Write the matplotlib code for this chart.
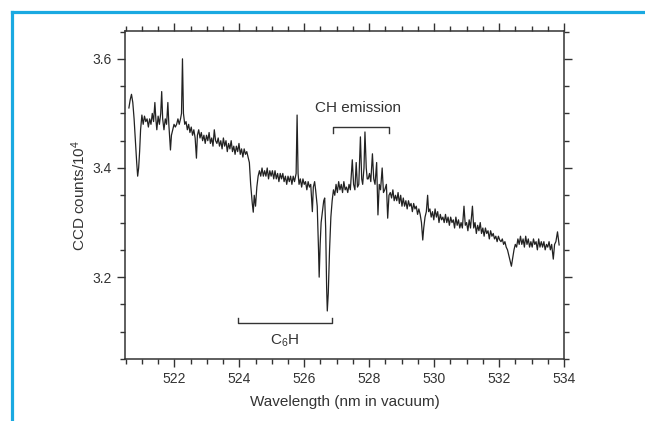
import numpy as np
import matplotlib
matplotlib.use('Agg')
import matplotlib.pyplot as plt
from matplotlib.ticker import MultipleLocator
from matplotlib.lines import Line2D

plt.rcParams['font.family'] = ['Liberation Sans', 'DejaVu Sans']
plt.rcParams['mathtext.default'] = 'regular'

# spectrum: (wavelength nm, counts / 1e4)
spectrum = [
    (520.60, 3.510), (520.64, 3.525), (520.68, 3.535), (520.72, 3.520), (520.76, 3.490),
    (520.80, 3.450), (520.84, 3.410), (520.87, 3.385), (520.90, 3.400), (520.93, 3.430),
    (520.96, 3.470), (521.00, 3.497), (521.04, 3.480), (521.08, 3.495), (521.12, 3.485),
    (521.16, 3.490), (521.20, 3.475), (521.24, 3.490), (521.28, 3.480), (521.32, 3.500),
    (521.36, 3.485), (521.40, 3.520), (521.43, 3.490), (521.46, 3.470), (521.50, 3.495),
    (521.54, 3.480), (521.58, 3.500), (521.61, 3.540), (521.64, 3.490), (521.68, 3.470),
    (521.72, 3.490), (521.76, 3.480), (521.80, 3.520), (521.83, 3.480), (521.86, 3.450),
    (521.88, 3.433), (521.91, 3.460), (521.95, 3.470), (521.99, 3.480), (522.03, 3.475),
    (522.07, 3.480), (522.11, 3.490), (522.15, 3.480), (522.19, 3.490), (522.22, 3.500),
    (522.25, 3.600), (522.28, 3.500), (522.32, 3.480), (522.36, 3.485),
    (522.40, 3.470), (522.44, 3.480), (522.48, 3.465), (522.52, 3.475), (522.56, 3.460),
    (522.60, 3.470), (522.64, 3.455), (522.68, 3.418), (522.71, 3.460), (522.75, 3.470),
    (522.79, 3.455), (522.83, 3.465), (522.87, 3.450), (522.91, 3.460), (522.95, 3.445),
    (522.99, 3.460), (523.03, 3.450), (523.07, 3.465), (523.11, 3.445), (523.15, 3.455),
    (523.19, 3.440), (523.23, 3.470), (523.27, 3.450), (523.31, 3.445), (523.35, 3.455),
    (523.39, 3.440), (523.43, 3.450), (523.47, 3.435), (523.51, 3.455), (523.55, 3.440),
    (523.59, 3.450), (523.63, 3.430), (523.67, 3.445), (523.71, 3.435), (523.75, 3.450),
    (523.79, 3.430), (523.83, 3.440), (523.87, 3.425), (523.91, 3.440), (523.95, 3.430),
    (523.99, 3.445), (524.03, 3.425), (524.07, 3.435), (524.11, 3.420), (524.15, 3.435),
    (524.19, 3.425), (524.23, 3.430), (524.27, 3.420), (524.31, 3.410), (524.35, 3.370),
    (524.40, 3.335), (524.43, 3.319), (524.46, 3.350), (524.50, 3.330), (524.54, 3.365),
    (524.58, 3.385), (524.62, 3.395),
    (524.66, 3.385), (524.70, 3.400), (524.74, 3.385), (524.78, 3.395), (524.82, 3.385),
    (524.86, 3.400), (524.90, 3.380), (524.94, 3.395), (524.98, 3.385), (525.02, 3.395),
    (525.06, 3.380), (525.10, 3.395), (525.14, 3.380), (525.18, 3.390), (525.22, 3.375),
    (525.26, 3.390), (525.30, 3.380), (525.34, 3.390), (525.38, 3.375), (525.42, 3.385),
    (525.46, 3.370), (525.50, 3.385), (525.54, 3.375), (525.58, 3.385), (525.62, 3.370),
    (525.66, 3.385), (525.70, 3.375), (525.75, 3.390), (525.78, 3.497), (525.81, 3.390),
    (525.84, 3.370), (525.88, 3.380), (525.92, 3.365), (525.96, 3.380), (526.00, 3.370),
    (526.04, 3.375), (526.08, 3.360), (526.12, 3.375), (526.16, 3.365), (526.20, 3.370),
    (526.25, 3.320), (526.28, 3.365), (526.32, 3.375),
    (526.35, 3.360), (526.40, 3.330), (526.44, 3.250), (526.46, 3.200), (526.49, 3.260),
    (526.52, 3.300), (526.56, 3.320), (526.60, 3.340), (526.63, 3.345), (526.66, 3.290),
    (526.69, 3.180), (526.71, 3.138), (526.74, 3.170), (526.78, 3.250), (526.82, 3.310),
    (526.86, 3.340), (526.90, 3.360),
    (526.94, 3.350), (526.98, 3.370), (527.02, 3.355), (527.06, 3.375), (527.10, 3.360),
    (527.14, 3.370), (527.18, 3.355), (527.22, 3.375), (527.26, 3.360), (527.30, 3.365),
    (527.34, 3.355), (527.38, 3.370), (527.42, 3.360), (527.48, 3.415), (527.52, 3.370),
    (527.56, 3.360), (527.60, 3.410), (527.64, 3.365), (527.68, 3.370), (527.73, 3.457),
    (527.77, 3.380), (527.80, 3.370), (527.84, 3.400), (527.87, 3.466), (527.91, 3.400),
    (527.94, 3.380), (527.97, 3.380), (528.01, 3.390), (528.05, 3.375), (528.10, 3.426),
    (528.14, 3.380), (528.18, 3.370), (528.23, 3.410), (528.27, 3.314), (528.31, 3.370),
    (528.35, 3.360), (528.40, 3.400), (528.44, 3.355), (528.48, 3.360), (528.53, 3.370),
    (528.57, 3.308), (528.61, 3.350),
    (528.65, 3.355), (528.69, 3.345), (528.73, 3.360), (528.77, 3.340), (528.81, 3.350),
    (528.85, 3.340), (528.89, 3.355), (528.93, 3.335), (528.97, 3.350), (529.01, 3.330),
    (529.05, 3.345), (529.09, 3.330), (529.13, 3.340), (529.17, 3.325), (529.21, 3.340),
    (529.25, 3.330), (529.29, 3.335), (529.33, 3.320), (529.37, 3.335), (529.41, 3.325),
    (529.45, 3.330), (529.49, 3.315), (529.53, 3.325), (529.57, 3.315), (529.61, 3.300),
    (529.65, 3.268), (529.68, 3.290), (529.72, 3.310), (529.76, 3.320), (529.80, 3.350),
    (529.83, 3.320),
    (529.87, 3.325), (529.91, 3.310), (529.95, 3.320), (529.99, 3.305), (530.03, 3.325),
    (530.07, 3.310), (530.11, 3.320), (530.15, 3.300), (530.19, 3.315), (530.23, 3.305),
    (530.27, 3.310), (530.31, 3.300), (530.35, 3.315), (530.39, 3.300), (530.43, 3.310),
    (530.47, 3.295), (530.51, 3.310), (530.55, 3.300), (530.59, 3.305), (530.63, 3.290),
    (530.67, 3.310), (530.71, 3.295), (530.75, 3.305), (530.79, 3.290), (530.83, 3.300),
    (530.87, 3.290), (530.92, 3.330), (530.96, 3.295), (531.00, 3.300), (531.04, 3.285),
    (531.08, 3.305), (531.12, 3.290), (531.18, 3.330), (531.22, 3.290), (531.26, 3.300),
    (531.30, 3.280), (531.34, 3.295), (531.38, 3.285), (531.42, 3.300), (531.46, 3.280),
    (531.50, 3.290), (531.54, 3.275), (531.58, 3.290), (531.62, 3.280), (531.66, 3.285),
    (531.70, 3.270), (531.74, 3.285), (531.78, 3.275), (531.82, 3.280), (531.86, 3.270),
    (531.90, 3.275),
    (531.94, 3.265), (531.98, 3.275), (532.02, 3.268), (532.06, 3.265), (532.10, 3.270),
    (532.14, 3.260), (532.18, 3.265), (532.22, 3.255), (532.26, 3.250), (532.30, 3.240),
    (532.34, 3.230), (532.38, 3.220), (532.42, 3.235), (532.46, 3.250), (532.50, 3.260),
    (532.54, 3.255), (532.58, 3.270), (532.62, 3.260), (532.66, 3.275), (532.70, 3.260),
    (532.74, 3.270), (532.78, 3.255), (532.82, 3.275), (532.86, 3.260), (532.90, 3.270),
    (532.94, 3.255), (532.98, 3.265), (533.02, 3.255), (533.06, 3.270), (533.10, 3.260),
    (533.14, 3.265), (533.18, 3.250), (533.22, 3.270), (533.26, 3.255), (533.30, 3.265),
    (533.34, 3.255), (533.38, 3.265), (533.42, 3.250), (533.46, 3.260), (533.50, 3.255),
    (533.54, 3.265), (533.58, 3.250), (533.62, 3.260), (533.67, 3.233), (533.71, 3.260),
    (533.75, 3.265), (533.80, 3.283), (533.85, 3.259),
]
wavelength = [p[0] for p in spectrum]
counts = [p[1] for p in spectrum]

# band markers
c6h_range = (523.95, 526.87)
c6h_level = 3.116
ch_range = (526.90, 528.60)
ch_level = 3.475

fig = plt.figure(figsize=(6.45, 4.21), dpi=100)
ax = fig.add_axes([125 / 645, 1 - 359 / 421, (564 - 125) / 645, (359 - 31) / 421])

ax.plot(wavelength, counts, color='#222222', lw=0.9)

ax.set_xlim(520.48, 534.0)
ax.set_ylim(3.05, 3.651)
ax.xaxis.set_major_locator(MultipleLocator(2))
ax.xaxis.set_minor_locator(MultipleLocator(0.5))
ax.yaxis.set_major_locator(MultipleLocator(0.2))
ax.yaxis.set_minor_locator(MultipleLocator(0.05))
ax.yaxis.set_major_formatter(plt.FuncFormatter(lambda v, p: f'{v:.1f}'))
ax.tick_params(which='both', direction='out', top=True, right=True,
               colors='#333333', labelsize=10, width=1.0)
ax.tick_params(which='major', length=6)
ax.tick_params(which='minor', length=3.5)
for s in ax.spines.values():
    s.set_linewidth(1.1)
    s.set_color('#333333')

ax.set_xlabel('Wavelength (nm in vacuum)', fontsize=11, color='#333333', labelpad=6)
ax.set_ylabel('CCD counts/10$^4$', fontsize=11, color='#333333', labelpad=3)

# C6H bracket
ax.plot([c6h_range[0], c6h_range[0], c6h_range[1], c6h_range[1]],
        [c6h_level + 0.01, c6h_level, c6h_level, c6h_level + 0.01], color='#333333', lw=1.0)
ax.text(sum(c6h_range) / 2, c6h_level - 0.018, 'C$_6$H', ha='center', va='top',
        fontsize=11, color='#333333')

# CH emission bracket
ax.plot([ch_range[0], ch_range[0], ch_range[1], ch_range[1]],
        [ch_level - 0.01, ch_level, ch_level, ch_level - 0.01], color='#333333', lw=1.0)
ax.text(sum(ch_range) / 2 - 0.1, ch_level + 0.022, 'CH emission', ha='center', va='bottom',
        fontsize=11, color='#333333')

# blue frame on the top and left edges
fig.add_artist(Line2D([12 / 645, 1], [1 - 12 / 421, 1 - 12 / 421], color='#1aa9e1', lw=2.3))
fig.add_artist(Line2D([12 / 645, 12 / 645], [0, 1 - 12 / 421], color='#1aa9e1', lw=2.3))

fig.savefig('out.png', dpi=100)
